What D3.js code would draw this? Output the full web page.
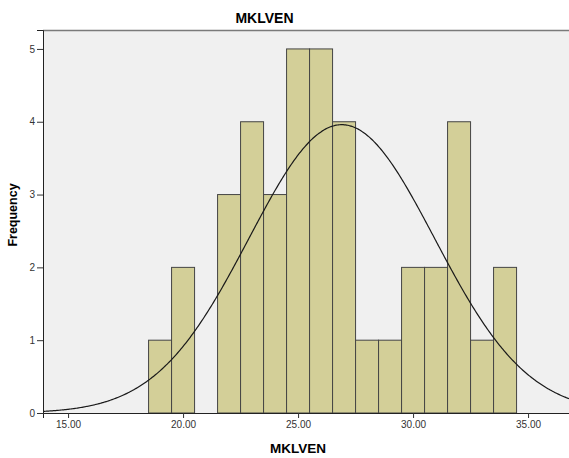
<!DOCTYPE html>
<html>
<head>
<meta charset="utf-8">
<script src="https://cdn.jsdelivr.net/npm/d3@7"></script>
<style>
  body { margin: 0; background: #fff; }
  text { font-family: "Liberation Sans", Arial, sans-serif; }
</style>
</head>
<body>
<div id="chart"></div>
<script>
// histogram bins (lower edge) and counts
let binStarts = [18.5, 19.5, 20.5, 21.5, 22.5, 23.5, 24.5, 25.5, 26.5, 27.5, 28.5, 29.5, 30.5, 31.5, 32.5, 33.5];
let counts    = [1, 2, 0, 3, 4, 3, 5, 5, 4, 1, 1, 2, 2, 4, 1, 2];
let binWidth = 1;
let xTicks = [15, 20, 25, 30, 35];
let yTicks = [0, 1, 2, 3, 4, 5];
// normal curve parameters
let mean = 26.9, sd = 4.03;

let width = 569, height = 458;
let margin = {top: 30, right: 0, bottom: 45, left: 43};

let svg = d3.select("#chart")
  .append("svg")
    .attr("width", width)
    .attr("height", height);

let x = d3.scaleLinear()
    .domain([13.91, 36.78])
    .range([margin.left, width - margin.right]);

let y = d3.scaleLinear()
    .domain([0, 5.26])
    .range([height - margin.bottom, margin.top]);

// plot background
svg.append("rect")
    .attr("x", margin.left)
    .attr("y", margin.top)
    .attr("width", width - margin.left - margin.right)
    .attr("height", height - margin.top - margin.bottom)
    .attr("fill", "#f0f0f0");

// top frame line
svg.append("line")
    .attr("x1", margin.left).attr("x2", width)
    .attr("y1", margin.top + 0.5).attr("y2", margin.top + 0.5)
    .attr("stroke", "#7a7a7a")
    .attr("stroke-width", 1.5);

// bars
let bins = binStarts.map((b, i) => ({ x0: b, x1: b + binWidth, n: counts[i] }))
  .filter(d => d.n > 0);

svg.selectAll("rect.bar")
  .data(bins)
  .enter()
  .append("rect")
    .attr("class", "bar")
    .attr("x", d => x(d.x0))
    .attr("y", d => y(d.n))
    .attr("width", d => x(d.x1) - x(d.x0))
    .attr("height", d => y(0) - y(d.n))
    .attr("fill", "#d3cf98")
    .attr("stroke", "#444")
    .attr("stroke-width", 1);

// normal curve
let total = d3.sum(counts);
let pts = d3.range(x.domain()[0], x.domain()[1] + 0.05, 0.05).map(v => {
  let z = (v - mean) / sd;
  return [v, total * binWidth * Math.exp(-0.5 * z * z) / (sd * Math.sqrt(2 * Math.PI))];
});
svg.append("path")
    .datum(pts)
    .attr("fill", "none")
    .attr("stroke", "#1a1a1a")
    .attr("stroke-width", 1.2)
    .attr("d", d3.line().x(d => x(d[0])).y(d => y(d[1])).curve(d3.curveBasis));

// axes
let xAxis = svg.append("g")
    .attr("transform", "translate(0," + y(0) + ")")
    .call(d3.axisBottom(x).tickValues(xTicks).tickFormat(d3.format(".2f")).tickSizeOuter(0).tickSize(5).tickPadding(3));
xAxis.select(".domain").attr("stroke", "#222");
xAxis.selectAll(".tick line").attr("stroke", "#333");
xAxis.selectAll("text").attr("font-size", "10px").attr("fill", "#333").attr("font-family", "Liberation Sans, Arial, sans-serif");

let yAxis = svg.append("g")
    .attr("transform", "translate(" + margin.left + ",0)")
    .call(d3.axisLeft(y).tickValues(yTicks).tickFormat(d3.format("d")).tickSizeOuter(0).tickSize(6).tickPadding(2));
yAxis.select(".domain").attr("stroke", "#222");
yAxis.selectAll(".tick line").attr("stroke", "#333");
yAxis.selectAll("text").attr("font-size", "10px").attr("fill", "#333").attr("font-family", "Liberation Sans, Arial, sans-serif");

// titles
svg.append("text")
    .attr("x", 264.5).attr("y", 23)
    .attr("text-anchor", "middle")
    .attr("font-size", "14px").attr("font-weight", "bold")
    .text("MKLVEN");

svg.append("text")
    .attr("x", 298).attr("y", 453)
    .attr("text-anchor", "middle")
    .attr("font-size", "13.5px").attr("font-weight", "bold")
    .text("MKLVEN");

svg.append("text")
    .attr("transform", "translate(17,215) rotate(-90)")
    .attr("text-anchor", "middle")
    .attr("font-size", "12.5px").attr("font-weight", "bold")
    .text("Frequency");
</script>
</body>
</html>
